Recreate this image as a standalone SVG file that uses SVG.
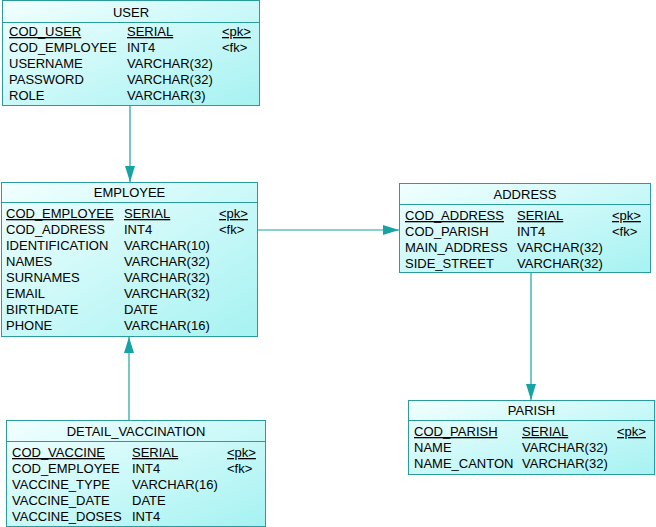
<svg xmlns="http://www.w3.org/2000/svg" width="656" height="527" viewBox="0 0 656 527">
<defs>
<linearGradient id="g" x1="0" y1="0" x2="1" y2="1">
<stop offset="0" stop-color="#f2ffff"/>
<stop offset="1" stop-color="#a6f2f2"/>
</linearGradient>
<marker id="arr" viewBox="0 0 16 10" refX="16" refY="5" markerWidth="16" markerHeight="10" markerUnits="userSpaceOnUse" orient="auto">
<path d="M0,0 L16,5 L0,10 Z" fill="#17a3a3"/>
</marker>
<style>
.box{fill:url(#g);stroke:#2a9c9c;stroke-width:1}
.div{stroke:#2a9c9c;stroke-width:1}
text{font-family:"Liberation Sans",Arial,sans-serif;font-size:13px;fill:#000}
.t{text-anchor:middle}
.pk{text-decoration:underline}
.con{stroke:#17a3a3;stroke-width:1.2;fill:none}
</style>
</defs>
<g id="connectors">
<line class="con" x1="130" y1="106" x2="130" y2="182" marker-end="url(#arr)"/>
<line class="con" x1="258" y1="230" x2="399" y2="230" marker-end="url(#arr)"/>
<line class="con" x1="531" y1="273" x2="531" y2="400" marker-end="url(#arr)"/>
<line class="con" x1="129" y1="420" x2="129" y2="337" marker-end="url(#arr)"/>
</g>
<g id="USER">
<rect class="box" x="2.5" y="0.5" width="257" height="105"/>
<line class="div" x1="2.5" y1="22.5" x2="259.5" y2="22.5"/>
<text class="t" x="131" y="16.5">USER</text>
<text class="pk" x="9" y="36">COD_USER</text><text class="pk" x="127" y="36">SERIAL</text><text class="pk" x="222" y="36">&lt;pk&gt;</text>
<text x="9" y="52">COD_EMPLOYEE</text><text x="127" y="52">INT4</text><text x="222" y="52">&lt;fk&gt;</text>
<text x="9" y="68">USERNAME</text><text x="127" y="68">VARCHAR(32)</text>
<text x="9" y="84">PASSWORD</text><text x="127" y="84">VARCHAR(32)</text>
<text x="9" y="100">ROLE</text><text x="127" y="100">VARCHAR(3)</text>
</g>
<g id="EMPLOYEE">
<rect class="box" x="1.5" y="182.5" width="256" height="154"/>
<line class="div" x1="1.5" y1="202.5" x2="257.5" y2="202.5"/>
<text class="t" x="129.5" y="197">EMPLOYEE</text>
<text class="pk" x="6" y="218">COD_EMPLOYEE</text><text class="pk" x="124" y="218">SERIAL</text><text class="pk" x="219" y="218">&lt;pk&gt;</text>
<text x="6" y="234">COD_ADDRESS</text><text x="124" y="234">INT4</text><text x="219" y="234">&lt;fk&gt;</text>
<text x="6" y="250">IDENTIFICATION</text><text x="124" y="250">VARCHAR(10)</text>
<text x="6" y="266">NAMES</text><text x="124" y="266">VARCHAR(32)</text>
<text x="6" y="282">SURNAMES</text><text x="124" y="282">VARCHAR(32)</text>
<text x="6" y="298">EMAIL</text><text x="124" y="298">VARCHAR(32)</text>
<text x="6" y="314">BIRTHDATE</text><text x="124" y="314">DATE</text>
<text x="6" y="330">PHONE</text><text x="124" y="330">VARCHAR(16)</text>
</g>
<g id="ADDRESS">
<rect class="box" x="399.5" y="183.5" width="251" height="89"/>
<line class="div" x1="399.5" y1="204.5" x2="650.5" y2="204.5"/>
<text class="t" x="525" y="199">ADDRESS</text>
<text class="pk" x="405" y="220">COD_ADDRESS</text><text class="pk" x="517" y="220">SERIAL</text><text class="pk" x="612" y="220">&lt;pk&gt;</text>
<text x="405" y="236">COD_PARISH</text><text x="517" y="236">INT4</text><text x="612" y="236">&lt;fk&gt;</text>
<text x="405" y="252">MAIN_ADDRESS</text><text x="517" y="252">VARCHAR(32)</text>
<text x="405" y="268">SIDE_STREET</text><text x="517" y="268">VARCHAR(32)</text>
</g>
<g id="DETAIL_VACCINATION">
<rect class="box" x="6.5" y="420.5" width="259" height="106"/>
<line class="div" x1="6.5" y1="441.5" x2="265.5" y2="441.5"/>
<text class="t" x="136" y="436">DETAIL_VACCINATION</text>
<text class="pk" x="12" y="457">COD_VACCINE</text><text class="pk" x="132" y="457">SERIAL</text><text class="pk" x="227" y="457">&lt;pk&gt;</text>
<text x="12" y="473">COD_EMPLOYEE</text><text x="132" y="473">INT4</text><text x="227" y="473">&lt;fk&gt;</text>
<text x="12" y="489">VACCINE_TYPE</text><text x="132" y="489">VARCHAR(16)</text>
<text x="12" y="505">VACCINE_DATE</text><text x="132" y="505">DATE</text>
<text x="12" y="521">VACCINE_DOSES</text><text x="132" y="521">INT4</text>
</g>
<g id="PARISH">
<rect class="box" x="408.5" y="400.5" width="246" height="74"/>
<line class="div" x1="408.5" y1="420.5" x2="654.5" y2="420.5"/>
<text class="t" x="531.5" y="415">PARISH</text>
<text class="pk" x="414" y="436">COD_PARISH</text><text class="pk" x="522" y="436">SERIAL</text><text class="pk" x="617" y="436">&lt;pk&gt;</text>
<text x="414" y="452">NAME</text><text x="522" y="452">VARCHAR(32)</text>
<text x="414" y="468">NAME_CANTON</text><text x="522" y="468">VARCHAR(32)</text>
</g>
</svg>
